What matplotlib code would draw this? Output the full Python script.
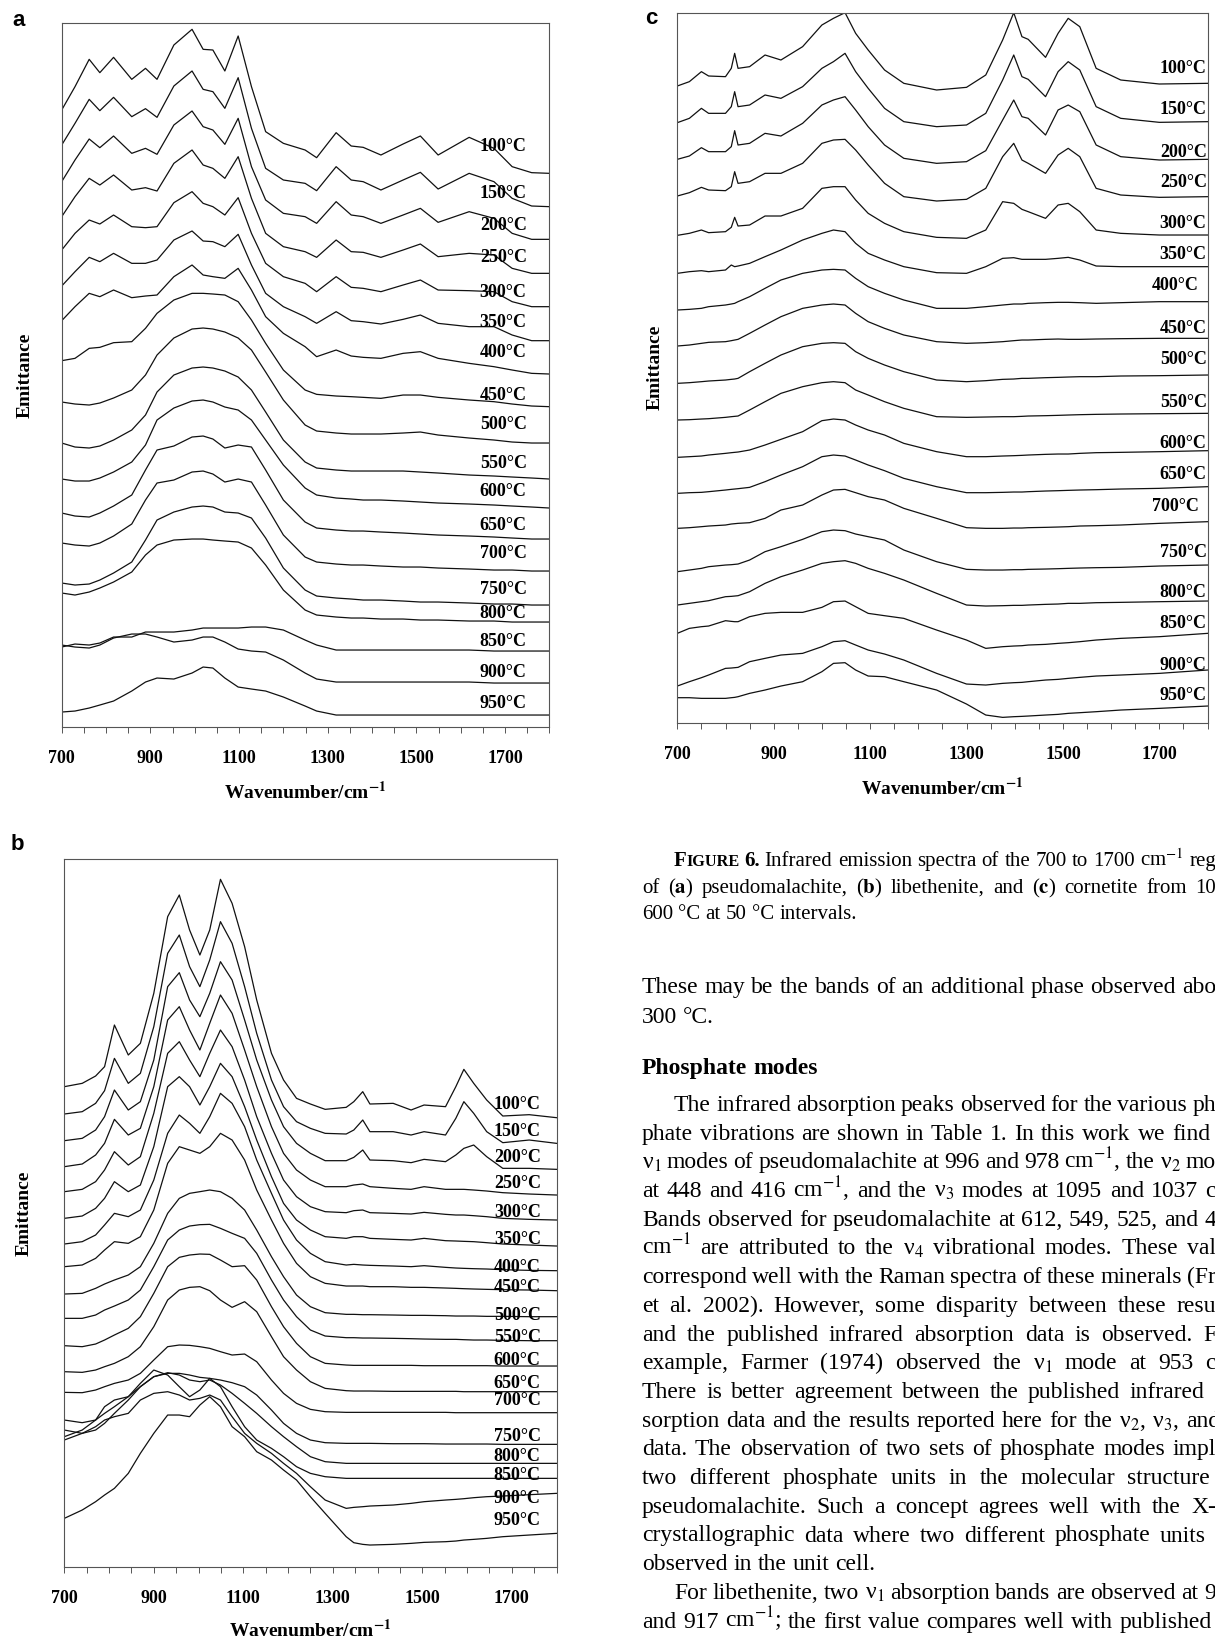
import matplotlib
matplotlib.use("Agg")
import matplotlib.pyplot as plt
from matplotlib.ticker import FixedLocator, MultipleLocator

plt.rcParams["font.family"] = ["Liberation Serif", "DejaVu Serif"]
plt.rcParams["mathtext.fontset"] = "stix"

W, H = 1215, 1641
temps = [100, 150, 200, 250, 300, 350, 400, 450, 500, 550, 600, 650, 700, 750, 800, 850, 900, 950]

# ---- panel a: pseudomalachite (stacked emittance, arbitrary units) ----
wn_a = [700, 730, 762, 786, 817, 858, 889, 915, 953, 994, 1019, 1041, 1068, 1098, 1128, 1160,
        1200, 1249, 1275, 1319, 1353, 1380, 1420, 1470, 1509, 1549, 1619, 1675, 1716, 1760, 1800]
a100 = [1850, 1920, 2002, 1962, 2008, 1942, 1975, 1942, 2045, 2092, 2032, 2030, 1967, 2072, 1920, 1785, 1750, 1730, 1707, 1782, 1742, 1738, 1715, 1748, 1772, 1715, 1768, 1735, 1680, 1662, 1660]
a150 = [1745, 1810, 1882, 1848, 1888, 1830, 1854, 1828, 1922, 1967, 1912, 1905, 1855, 1947, 1795, 1675, 1640, 1630, 1608, 1680, 1640, 1635, 1610, 1640, 1663, 1613, 1660, 1635, 1585, 1562, 1560]
a200 = [1635, 1700, 1763, 1737, 1772, 1720, 1735, 1717, 1805, 1847, 1800, 1790, 1747, 1825, 1680, 1580, 1540, 1530, 1510, 1575, 1535, 1530, 1510, 1535, 1555, 1513, 1545, 1525, 1480, 1462, 1462]
a250 = [1530, 1590, 1645, 1625, 1655, 1610, 1617, 1607, 1690, 1730, 1685, 1675, 1645, 1710, 1585, 1480, 1440, 1425, 1408, 1460, 1425, 1423, 1408, 1430, 1448, 1410, 1420, 1415, 1375, 1360, 1360]
a300 = [1430, 1480, 1520, 1508, 1535, 1500, 1497, 1500, 1572, 1605, 1570, 1560, 1535, 1587, 1480, 1390, 1350, 1330, 1305, 1350, 1318, 1315, 1305, 1325, 1340, 1310, 1308, 1305, 1275, 1260, 1260]
a350 = [1322, 1365, 1408, 1395, 1420, 1390, 1390, 1400, 1460, 1487, 1457, 1455, 1440, 1477, 1385, 1300, 1260, 1230, 1210, 1245, 1218, 1215, 1208, 1222, 1235, 1210, 1200, 1200, 1175, 1158, 1158]
a400 = [1218, 1260, 1300, 1290, 1310, 1287, 1292, 1295, 1350, 1385, 1355, 1350, 1345, 1375, 1310, 1230, 1180, 1140, 1110, 1130, 1112, 1108, 1105, 1120, 1125, 1105, 1090, 1080, 1070, 1060, 1058]
a450 = [1098, 1105, 1135, 1138, 1152, 1155, 1195, 1240, 1280, 1300, 1300, 1298, 1295, 1275, 1220, 1150, 1070, 1010, 997, 992, 990, 988, 985, 995, 995, 988, 980, 975, 968, 962, 960]
a500 = [974, 968, 965, 971, 986, 1010, 1055, 1115, 1166, 1193, 1196, 1193, 1184, 1166, 1130, 1064, 980, 905, 887, 881, 878, 878, 878, 881, 884, 875, 866, 860, 854, 851, 851]
a550 = [851, 839, 836, 842, 860, 890, 935, 1004, 1055, 1076, 1079, 1076, 1067, 1049, 1010, 944, 860, 794, 776, 770, 767, 767, 767, 767, 764, 761, 755, 752, 749, 746, 743]
a600 = [743, 737, 737, 746, 764, 794, 845, 920, 956, 977, 980, 974, 959, 950, 920, 860, 785, 716, 695, 686, 683, 680, 680, 677, 674, 671, 668, 665, 662, 659, 656]
a650 = [641, 632, 629, 641, 662, 695, 770, 830, 842, 869, 872, 863, 836, 845, 839, 770, 680, 614, 596, 590, 587, 587, 584, 581, 578, 575, 572, 569, 566, 563, 563]
a700 = [551, 545, 542, 551, 572, 608, 680, 731, 740, 764, 767, 758, 734, 743, 734, 665, 575, 509, 494, 488, 485, 485, 482, 479, 479, 476, 473, 470, 470, 467, 467]
a750 = [431, 425, 428, 440, 461, 494, 560, 620, 644, 659, 662, 659, 644, 641, 626, 566, 476, 410, 392, 386, 383, 380, 380, 377, 374, 374, 371, 368, 368, 365, 365]
a800 = [401, 395, 404, 416, 434, 464, 515, 545, 560, 563, 563, 560, 557, 554, 536, 485, 410, 350, 335, 329, 326, 326, 323, 323, 320, 320, 317, 317, 314, 314, 314]
a850 = [239, 248, 245, 251, 269, 269, 284, 284, 284, 290, 296, 296, 296, 296, 299, 299, 290, 260, 245, 230, 230, 230, 230, 230, 230, 230, 230, 227, 227, 227, 227]
a900 = [245, 239, 236, 245, 266, 278, 278, 269, 254, 260, 269, 269, 254, 233, 227, 224, 200, 161, 143, 134, 134, 134, 134, 134, 134, 134, 134, 131, 131, 131, 131]
a950 = [44, 47, 56, 65, 77, 107, 134, 146, 143, 161, 179, 176, 146, 119, 113, 107, 89, 62, 47, 35, 35, 35, 35, 35, 35, 35, 35, 35, 35, 35, 35]
lab_a = [1742, 1601, 1505, 1409, 1304, 1214, 1124, 995, 908, 791, 707, 605, 521, 413, 341, 257, 164, 71]

# ---- panel b: libethenite ----
wn_b = [700, 740, 770, 790, 812, 843, 870, 900, 931, 957, 980, 1003, 1025, 1049, 1075, 1103, 1130, 1163, 1190,
        1219, 1250, 1283, 1330, 1347, 1367, 1383, 1435, 1475, 1504, 1552, 1575, 1593, 1615, 1644, 1680, 1739, 1800]
b100 = [1440, 1450, 1472, 1500, 1625, 1535, 1570, 1720, 1950, 2015, 1910, 1835, 1910, 2062, 1990, 1860, 1700, 1540, 1460, 1405, 1388, 1372, 1378, 1395, 1425, 1388, 1390, 1370, 1385, 1380, 1440, 1492, 1450, 1400, 1352, 1356, 1347]
b150 = [1358, 1365, 1390, 1428, 1525, 1450, 1480, 1620, 1840, 1895, 1800, 1740, 1820, 1935, 1870, 1740, 1600, 1460, 1380, 1335, 1315, 1300, 1298, 1310, 1340, 1305, 1305, 1295, 1305, 1295, 1345, 1395, 1360, 1305, 1272, 1280, 1270]
b200 = [1278, 1285, 1310, 1350, 1430, 1370, 1395, 1520, 1740, 1782, 1700, 1650, 1720, 1815, 1760, 1640, 1520, 1400, 1320, 1270, 1240, 1218, 1218, 1228, 1250, 1220, 1218, 1212, 1222, 1215, 1235, 1255, 1265, 1230, 1195, 1195, 1192]
b250 = [1200, 1208, 1235, 1270, 1342, 1295, 1315, 1440, 1640, 1680, 1610, 1550, 1630, 1715, 1660, 1550, 1440, 1320, 1240, 1190, 1160, 1140, 1140, 1145, 1148, 1140, 1135, 1132, 1140, 1132, 1132, 1132, 1130, 1127, 1122, 1118, 1115]
b300 = [1125, 1132, 1155, 1190, 1245, 1205, 1230, 1360, 1540, 1575, 1520, 1470, 1540, 1610, 1560, 1460, 1350, 1240, 1160, 1110, 1080, 1065, 1062, 1068, 1070, 1062, 1060, 1058, 1063, 1057, 1055, 1055, 1053, 1050, 1045, 1042, 1040]
b350 = [1045, 1052, 1075, 1105, 1155, 1125, 1145, 1260, 1440, 1470, 1440, 1385, 1440, 1510, 1470, 1380, 1280, 1170, 1090, 1040, 1010, 990, 985, 990, 990, 985, 982, 980, 985, 978, 977, 976, 975, 972, 968, 965, 962]
b400 = [968, 975, 995, 1025, 1060, 1050, 1070, 1160, 1300, 1355, 1330, 1300, 1350, 1420, 1390, 1320, 1220, 1120, 1040, 980, 940, 915, 905, 907, 905, 904, 902, 900, 903, 898, 896, 895, 894, 893, 891, 889, 888]
b450 = [900, 905, 925, 950, 975, 970, 990, 1070, 1210, 1260, 1250, 1240, 1260, 1300, 1280, 1220, 1130, 1040, 970, 910, 870, 850, 842, 842, 842, 840, 840, 838, 838, 836, 835, 834, 833, 832, 831, 830, 828]
b500 = [818, 820, 835, 848, 860, 875, 900, 970, 1060, 1105, 1120, 1125, 1130, 1125, 1105, 1070, 1010, 930, 870, 815, 780, 762, 757, 757, 756, 756, 755, 754, 754, 753, 752, 752, 752, 751, 751, 750, 750]
b550 = [745, 745, 755, 770, 782, 800, 830, 900, 980, 1010, 1022, 1026, 1027, 1015, 1000, 985, 940, 860, 800, 750, 710, 692, 687, 687, 686, 686, 685, 684, 683, 682, 682, 681, 680, 680, 679, 678, 678]
b600 = [663, 660, 668, 680, 695, 715, 750, 820, 900, 928, 935, 938, 937, 920, 900, 903, 860, 780, 720, 670, 630, 610, 605, 604, 604, 604, 604, 604, 603, 603, 603, 603, 603, 603, 602, 602, 602]
b650 = [585, 583, 590, 600, 610, 630, 660, 720, 800, 830, 838, 840, 828, 800, 778, 795, 765, 690, 630, 590, 555, 535, 528, 527, 527, 527, 526, 526, 526, 526, 526, 525, 525, 525, 525, 525, 525]
b700 = [523, 522, 530, 540, 550, 560, 580, 620, 660, 665, 664, 660, 655, 645, 635, 638, 615, 560, 520, 490, 472, 465, 463, 463, 463, 463, 463, 463, 463, 463, 462, 462, 462, 462, 462, 462, 462]
b750 = [440, 432, 440, 460, 480, 510, 540, 570, 580, 580, 575, 568, 565, 560, 552, 540, 515, 470, 430, 400, 380, 372, 370, 370, 370, 370, 369, 369, 369, 368, 368, 368, 368, 368, 367, 367, 367]
b800 = [410, 400, 410, 430, 460, 500, 540, 570, 582, 575, 560, 555, 560, 545, 520, 490, 460, 420, 390, 360, 330, 315, 310, 310, 310, 310, 310, 310, 310, 310, 310, 310, 310, 310, 310, 310, 310]
b850 = [390, 410, 440, 480, 500, 510, 550, 590, 575, 540, 510, 530, 565, 540, 480, 420, 380, 355, 330, 300, 280, 270, 265, 265, 265, 265, 265, 265, 265, 265, 265, 265, 265, 265, 265, 265, 265]
b900 = [380, 400, 420, 440, 450, 460, 500, 520, 525, 515, 500, 505, 515, 500, 450, 400, 370, 340, 310, 280, 240, 200, 175, 178, 180, 182, 185, 190, 195, 200, 202, 204, 207, 210, 212, 216, 220]
b950 = [145, 170, 195, 215, 235, 280, 340, 400, 455, 455, 450, 485, 510, 480, 420, 390, 345, 320, 290, 260, 210, 160, 90, 72, 67, 65, 67, 70, 73, 75, 77, 80, 82, 85, 90, 95, 100]
lab_b = [1388, 1307, 1229, 1151, 1064, 983, 899, 839, 755, 689, 620, 551, 500, 392, 332, 275, 206, 140]

# ---- panel c: cornetite ----
wn_c = [700, 725, 750, 765, 800, 812, 819, 826, 850, 882, 915, 960, 1000, 1024, 1048, 1070, 1096,
        1130, 1170, 1238, 1300, 1340, 1375, 1398, 1415, 1428, 1464, 1490, 1511, 1535, 1569, 1620, 1700, 1800]
c100 = [1910, 1923, 1953, 1940, 1938, 1963, 2008, 1963, 1968, 2003, 1988, 2028, 2093, 2113, 2130, 2068, 2018, 1958, 1918, 1898, 1906, 1943, 2048, 2130, 2058, 2050, 1996, 2068, 2113, 2088, 1963, 1928, 1916, 1918]
c150 = [1800, 1813, 1843, 1828, 1828, 1848, 1893, 1848, 1853, 1883, 1873, 1908, 1963, 1983, 2008, 1953, 1903, 1843, 1803, 1788, 1793, 1828, 1928, 2003, 1938, 1930, 1878, 1953, 1983, 1958, 1848, 1813, 1801, 1803]
c200 = [1690, 1700, 1725, 1713, 1713, 1728, 1776, 1733, 1738, 1768, 1760, 1798, 1853, 1868, 1878, 1838, 1788, 1733, 1693, 1678, 1683, 1716, 1808, 1868, 1818, 1813, 1763, 1838, 1853, 1833, 1733, 1698, 1688, 1690]
c250 = [1580, 1590, 1606, 1598, 1596, 1608, 1653, 1618, 1623, 1648, 1648, 1678, 1738, 1748, 1750, 1718, 1673, 1618, 1578, 1565, 1570, 1603, 1698, 1738, 1688, 1678, 1648, 1703, 1723, 1698, 1603, 1583, 1576, 1578]
c300 = [1462, 1468, 1478, 1470, 1473, 1486, 1516, 1490, 1493, 1520, 1520, 1543, 1603, 1608, 1608, 1568, 1528, 1498, 1473, 1456, 1453, 1478, 1563, 1558, 1540, 1533, 1513, 1553, 1558, 1533, 1478, 1468, 1463, 1463]
c350 = [1348, 1353, 1356, 1353, 1358, 1373, 1368, 1370, 1378, 1398, 1418, 1448, 1468, 1478, 1473, 1438, 1408, 1388, 1368, 1350, 1348, 1368, 1393, 1395, 1390, 1390, 1390, 1393, 1396, 1388, 1370, 1368, 1368, 1368]
c400 = [1238, 1240, 1243, 1248, 1253, 1256, 1258, 1263, 1278, 1303, 1328, 1348, 1358, 1360, 1358, 1333, 1308, 1288, 1268, 1243, 1243, 1248, 1253, 1256, 1256, 1258, 1260, 1261, 1261, 1260, 1258, 1260, 1263, 1263]
c450 = [1130, 1133, 1138, 1141, 1143, 1146, 1148, 1150, 1168, 1193, 1218, 1243, 1253, 1256, 1253, 1228, 1203, 1183, 1163, 1143, 1138, 1140, 1143, 1146, 1148, 1148, 1150, 1151, 1150, 1150, 1151, 1152, 1153, 1153]
c500 = [1018, 1020, 1023, 1025, 1028, 1030, 1031, 1033, 1053, 1078, 1103, 1128, 1138, 1140, 1138, 1113, 1093, 1073, 1053, 1028, 1023, 1026, 1030, 1031, 1033, 1033, 1035, 1036, 1037, 1038, 1038, 1040, 1041, 1043]
c550 = [908, 909, 911, 912, 916, 918, 919, 920, 938, 963, 988, 1008, 1020, 1023, 1020, 998, 983, 963, 943, 918, 916, 917, 918, 918, 919, 920, 921, 922, 923, 924, 925, 926, 927, 928]
c600 = [796, 798, 800, 803, 808, 810, 811, 812, 818, 833, 850, 873, 906, 911, 908, 893, 878, 863, 838, 813, 798, 798, 800, 801, 802, 803, 805, 806, 806, 808, 810, 811, 813, 816]
c650 = [688, 690, 691, 693, 698, 700, 701, 702, 706, 723, 743, 768, 798, 803, 800, 788, 773, 756, 733, 708, 690, 690, 691, 692, 692, 693, 695, 696, 697, 698, 699, 701, 703, 708]
c700 = [583, 585, 588, 590, 593, 596, 597, 598, 600, 613, 638, 653, 683, 698, 700, 690, 678, 668, 643, 613, 585, 583, 583, 584, 584, 585, 586, 587, 588, 590, 591, 593, 598, 603]
c750 = [453, 458, 463, 468, 473, 474, 475, 476, 488, 513, 528, 550, 573, 578, 576, 566, 558, 548, 518, 483, 460, 458, 458, 459, 459, 460, 461, 462, 463, 464, 465, 466, 470, 473]
c800 = [353, 358, 363, 366, 378, 379, 380, 381, 393, 418, 438, 458, 478, 483, 486, 478, 463, 448, 428, 388, 353, 350, 351, 352, 352, 353, 355, 356, 358, 358, 360, 361, 363, 365]
c850 = [268, 283, 288, 290, 306, 304, 303, 303, 318, 328, 331, 331, 346, 363, 365, 348, 328, 321, 313, 278, 248, 223, 228, 230, 231, 233, 235, 238, 240, 243, 248, 253, 258, 268]
c900 = [110, 123, 135, 143, 163, 164, 165, 166, 183, 193, 203, 208, 228, 243, 246, 233, 218, 206, 188, 148, 116, 113, 118, 120, 121, 123, 128, 130, 133, 136, 140, 143, 148, 158]
c950 = [75, 75, 73, 73, 73, 75, 76, 78, 88, 98, 110, 123, 153, 178, 180, 158, 140, 138, 123, 98, 56, 23, 16, 18, 19, 20, 23, 25, 28, 30, 33, 38, 43, 50]
lab_c = [1964, 1841, 1712, 1622, 1499, 1406, 1313, 1184, 1091, 962, 839, 746, 650, 512, 392, 299, 173, 83]
labx_c = [1701, 1701, 1701, 1701, 1701, 1701, 1684, 1701, 1701, 1701, 1701, 1701, 1684, 1701, 1701, 1701, 1701, 1701]

fig = plt.figure(figsize=(W / 100, H / 100), dpi=100)


def fx(x):
    return x / W


def fy(y):
    return 1 - y / H


def panel(box, wn, curves, top, lab_x, lab_y):
    left, ptop, right, bottom = box
    ax = fig.add_axes([fx(left), fy(bottom), (right - left) / W, (bottom - ptop) / H])
    for vals in curves:
        ax.plot(wn, vals, color="#111111", lw=0.9)
    for t, lx, ly in zip(temps, lab_x, lab_y):
        ax.text(lx, ly, f"{t}°C", fontsize=13, fontweight="bold", va="center", ha="left", clip_on=False)
    ax.set_xlim(700, 1800)
    ax.set_ylim(0, top)
    ax.set_yticks([])
    ax.xaxis.set_major_locator(FixedLocator([700, 900, 1100, 1300, 1500, 1700]))
    ax.xaxis.set_minor_locator(MultipleLocator(50))
    ax.set_xticklabels(["700", "900", "1100", "1300", "1500", "1700"], fontsize=13, fontweight="bold")
    ax.tick_params(axis="x", which="both", direction="out", length=4.5, width=0.7, color="#555555", pad=12)
    for s in ax.spines.values():
        s.set_color("#555555")
        s.set_linewidth(0.8)
    return ax


panel((61.7, 23, 549.4, 726.7), wn_a,
      [a100, a150, a200, a250, a300, a350, a400, a450, a500, a550, a600, a650, a700, a750, a800, a850, a900, a950],
      2111, [1643] * 18, lab_a)
panel((64.3, 859, 556.5, 1566.7), wn_b,
      [b100, b150, b200, b250, b300, b350, b400, b450, b500, b550, b600, b650, b700, b750, b800, b850, b900, b950],
      2123, [1660] * 18, lab_b)
panel((677.3, 13, 1207.5, 722.7), wn_c,
      [c100, c150, c200, c250, c300, c350, c400, c450, c500, c550, c600, c650, c700, c750, c800, c850, c900, c950],
      2129, labx_c, lab_c)

# axis titles and panel letters
for x, y in [(305, 792), (310, 1630), (942, 788)]:
    fig.text(fx(x), fy(y), r"Wavenumber/cm$^{\mathbf{-1}}$", fontsize=14, fontweight="bold",
             ha="center", va="center")
for x, y in [(25, 375), (24, 1213), (655, 367)]:
    fig.text(fx(x), fy(y), "Emittance", fontsize=14, fontweight="bold", rotation=90, ha="center", va="center")
for s, x, y in [("a", 19, 20), ("b", 17, 845), ("c", 651, 19)]:
    fig.text(fx(x), fy(y), s, fontsize=16, fontweight="bold", family="Liberation Sans", ha="center", va="center")

# ---- page text on the right column ----
renderer = fig.canvas.get_renderer()


def put_line(text, x0, y, x1=None, size=17, weight="normal"):
    words = text.split(" ")
    ts = [fig.text(fx(x0), fy(y), w, fontsize=size, fontweight=weight, va="baseline") for w in words]
    ws = [t.get_window_extent(renderer).width for t in ts]
    if x1 is None or len(ws) < 2:
        gap = 0.25 * size * 100 / 72
    else:
        gap = (x1 - x0 - sum(ws)) / (len(ws) - 1)
    x = x0
    for t, w in zip(ts, ws):
        t.set_x(fx(x))
        x += w + gap
    return x


cap = 15
f1 = fig.text(fx(674), fy(866), "F", fontsize=cap, fontweight="bold", va="baseline")
xx = 674 + f1.get_window_extent(renderer).width
f2 = fig.text(fx(xx), fy(866), "IGURE", fontsize=cap * 0.78, fontweight="bold", va="baseline")
xx += f2.get_window_extent(renderer).width + 4
f3 = fig.text(fx(xx), fy(866), "6.", fontsize=cap, fontweight="bold", va="baseline")
xx += f3.get_window_extent(renderer).width + 5
put_line("Infrared emission spectra of the 700 to 1700 cm$^{-1}$ reg", xx, 866, 1216, size=cap)
put_line(r"of ($\mathbf{a}$) pseudomalachite, ($\mathbf{b}$) libethenite, and ($\mathbf{c}$) cornetite from 10",
         642, 893, 1216, size=cap)
put_line("600 °C at 50 °C intervals.", 642, 919, None, size=cap)

put_line("These may be the bands of an additional phase observed abo", 642, 993, 1216)
put_line("300 °C.", 642, 1023)
put_line("Phosphate modes", 642, 1074, None, weight="bold")

body = [
    "The infrared absorption peaks observed for the various ph",
    "phate vibrations are shown in Table 1. In this work we find",
    "ν$_1$ modes of pseudomalachite at 996 and 978 cm$^{-1}$, the ν$_2$ mo",
    "at 448 and 416 cm$^{-1}$, and the ν$_3$ modes at 1095 and 1037 c",
    "Bands observed for pseudomalachite at 612, 549, 525, and 4",
    "cm$^{-1}$ are attributed to the ν$_4$ vibrational modes. These val",
    "correspond well with the Raman spectra of these minerals (Fr",
    "et al. 2002). However, some disparity between these resu",
    "and the published infrared absorption data is observed. F",
    "example, Farmer (1974) observed the ν$_1$ mode at 953 c",
    "There is better agreement between the published infrared",
    "sorption data and the results reported here for the ν$_2$, ν$_3$, and",
    "data. The observation of two sets of phosphate modes impl",
    "two different phosphate units in the molecular structure",
    "pseudomalachite. Such a concept agrees well with the X-",
    "crystallographic data where two different phosphate units",
    "observed in the unit cell.",
    "For libethenite, two ν$_1$ absorption bands are observed at 9",
    "and 917 cm$^{-1}$; the first value compares well with published",
]
ends = [1216, 1210, 1216, 1216, 1216, 1216, 1216, 1216, 1216, 1216, 1204, 1220, 1216, 1210, 1216, 1206,
        None, 1216, 1212]
indent = [True] + [False] * 16 + [True, False]
for k, (line, e, ind) in enumerate(zip(body, ends, indent)):
    put_line(line, 674 if ind else 642, 1111 + 28.7 * k, e)

fig.savefig("out.png", dpi=100)
